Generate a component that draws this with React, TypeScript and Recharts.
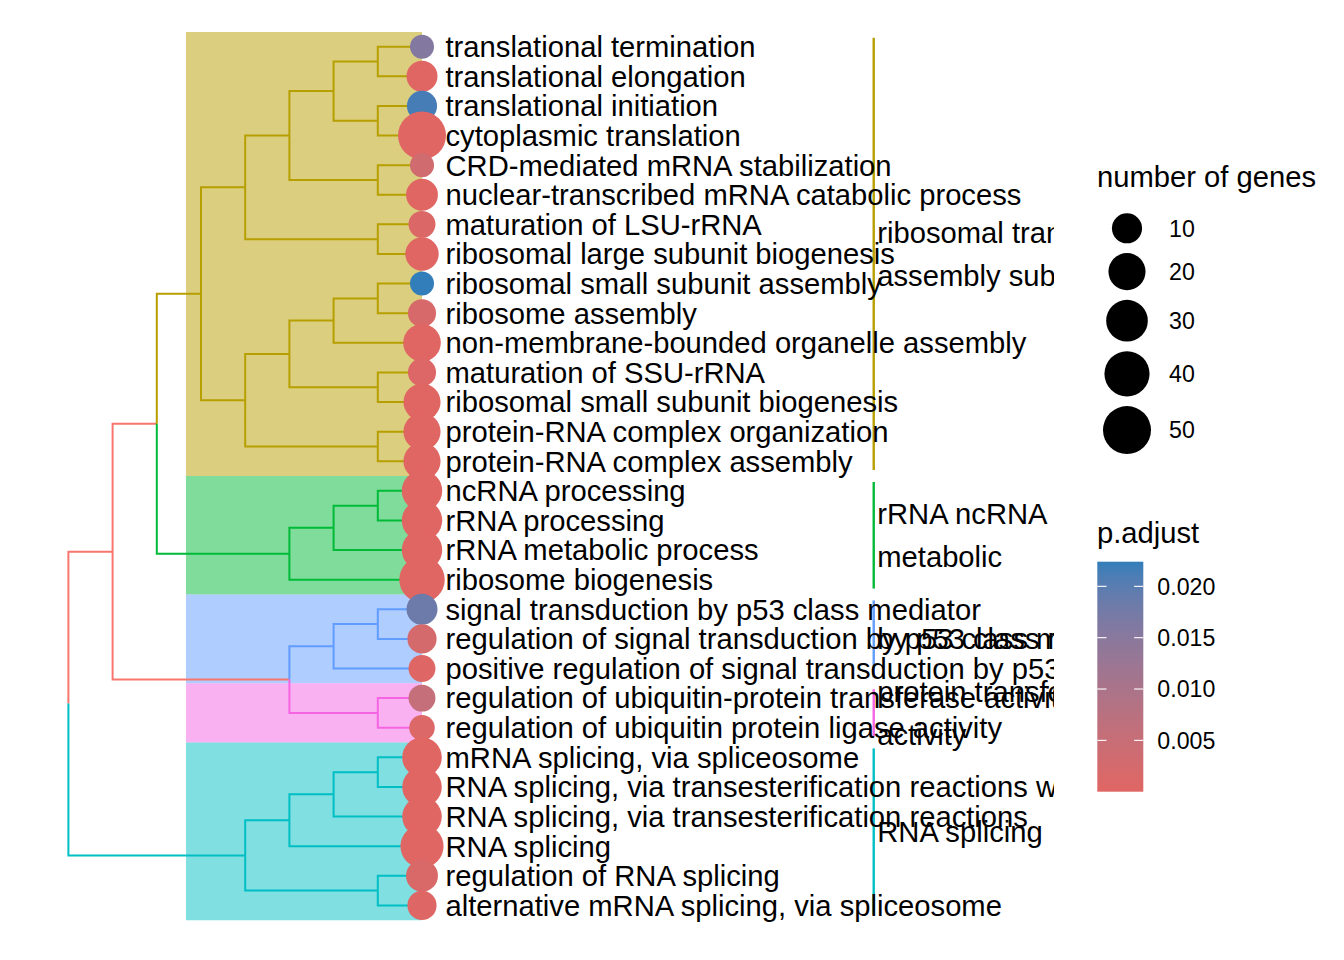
import React from 'react';
import { ComposedChart, Line, Scatter, XAxis, YAxis, ZAxis, ReferenceArea, Cell } from 'recharts';

const FONT = '"Liberation Sans", Arial, Helvetica, sans-serif';

// ---------- data ----------
const terms = [
  'translational termination',
  'translational elongation',
  'translational initiation',
  'cytoplasmic translation',
  'CRD-mediated mRNA stabilization',
  'nuclear-transcribed mRNA catabolic process',
  'maturation of LSU-rRNA',
  'ribosomal large subunit biogenesis',
  'ribosomal small subunit assembly',
  'ribosome assembly',
  'non-membrane-bounded organelle assembly',
  'maturation of SSU-rRNA',
  'ribosomal small subunit biogenesis',
  'protein-RNA complex organization',
  'protein-RNA complex assembly',
  'ncRNA processing',
  'rRNA processing',
  'rRNA metabolic process',
  'ribosome biogenesis',
  'signal transduction by p53 class mediator',
  'regulation of signal transduction by p53 class mediator',
  'positive regulation of signal transduction by p53 class mediator',
  'regulation of ubiquitin-protein transferase activity',
  'regulation of ubiquitin protein ligase activity',
  'mRNA splicing, via spliceosome',
  'RNA splicing, via transesterification reactions with bulged adenosine as nucleophile',
  'RNA splicing, via transesterification reactions',
  'RNA splicing',
  'regulation of RNA splicing',
  'alternative mRNA splicing, via spliceosome',
];

const geneCount = [5, 11, 10, 50, 5, 12, 7, 14, 5, 8, 21, 8, 20, 20, 20, 27, 27, 27, 41, 11, 9, 7, 7, 6, 25, 25, 25, 34, 12, 9];

const pAdjust = [
  0.0157, 2.1e-6, 0.0213, 1.3e-22, 0.0032, 4.5e-5, 0.001, 1.2e-6, 0.0224, 0.0018,
  3.4e-6, 0.0008, 2.0e-8, 3.1e-7, 2.2e-7, 1.1e-6, 4.0e-9, 6.0e-9, 1.5e-12, 0.0182,
  0.0022, 0.0004, 0.0056, 0.0009, 1.0e-5, 1.0e-5, 1.1e-5, 3.0e-6, 0.0015, 0.0004,
];

// cluster of each leaf (0..4)
const leafCluster = [
  0, 0, 0, 0, 0, 0, 0, 0, 0, 0, 0, 0, 0, 0, 0,
  1, 1, 1, 1,
  2, 2, 2,
  3, 3,
  4, 4, 4, 4, 4, 4,
];

const clusterLabelLines = [
  ['ribosomal translation', 'assembly subunit'],
  ['rRNA ncRNA', 'metabolic'],
  ['by p53 class mediator'],
  ['protein transferase', 'activity'],
  ['RNA splicing'],
];

const clusterColors = ['#B79F00', '#00BA38', '#619CFF', '#F564E3', '#00BFC4'];
const unclusteredColor = '#F8766D';

type Kid = number | string;
// dendrogram merges: kids are leaf numbers (1-based, top to bottom) or node ids
const treeNodes: { id: string; kids: Kid[]; level: number }[] = [
  { id: 'A', kids: [1, 2], level: 1 },
  { id: 'B', kids: [3, 4], level: 1 },
  { id: 'C', kids: ['A', 'B'], level: 2 },
  { id: 'D', kids: [5, 6], level: 1 },
  { id: 'E', kids: ['C', 'D'], level: 3 },
  { id: 'F', kids: [7, 8], level: 1 },
  { id: 'G', kids: ['E', 'F'], level: 4 },
  { id: 'H', kids: [9, 10], level: 1 },
  { id: 'I', kids: ['H', 11], level: 2 },
  { id: 'J', kids: [12, 13], level: 1 },
  { id: 'K', kids: ['I', 'J'], level: 3 },
  { id: 'L', kids: [14, 15], level: 1 },
  { id: 'M', kids: ['K', 'L'], level: 4 },
  { id: 'N', kids: ['G', 'M'], level: 5 },
  { id: 'P', kids: [16, 17], level: 1 },
  { id: 'Q', kids: ['P', 18], level: 2 },
  { id: 'R', kids: ['Q', 19], level: 3 },
  { id: 'O', kids: ['N', 'R'], level: 6 },
  { id: 'S', kids: [20, 21], level: 1 },
  { id: 'T', kids: ['S', 22], level: 2 },
  { id: 'U', kids: [23, 24], level: 1 },
  { id: 'V', kids: ['T', 'U'], level: 3 },
  { id: 'W', kids: ['O', 'V'], level: 7 },
  { id: 'X1', kids: [25, 26], level: 1 },
  { id: 'X2', kids: ['X1', 27], level: 2 },
  { id: 'X3', kids: ['X2', 28], level: 3 },
  { id: 'X4', kids: [29, 30], level: 1 },
  { id: 'X5', kids: ['X3', 'X4'], level: 4 },
  { id: 'root', kids: ['W', 'X5'], level: 8 },
];

const sizeBreaks = [10, 20, 30, 40, 50];
const colorBreaks = [0.005, 0.01, 0.015, 0.02];

// ---------- layout constants ----------
const SIZE_DOMAIN: [number, number] = [5, 50];
const SIZE_RANGE: [number, number] = [454, 1810];
const HILIGHT_X = -5.34;
const LABEL_X = 0.532;
const BAR_X = 10.22;
const CLUSTER_LABEL_X = 10.3;
const LABEL_SIZE = 29.2;

// ---------- tree helpers ----------
const nodeMap = new Map(treeNodes.map((n) => [n.id, n]));
function nodeY(k: Kid): number {
  if (typeof k === 'number') return k;
  const n = nodeMap.get(k)!;
  return n.kids.map(nodeY).reduce((a, b) => a + b, 0) / n.kids.length;
}
function nodeLevel(k: Kid): number {
  return typeof k === 'number' ? 0 : nodeMap.get(k)!.level;
}
function nodeGroup(k: Kid): number {
  if (typeof k === 'number') return leafCluster[k - 1];
  const gs = nodeMap.get(k)!.kids.map(nodeGroup);
  return gs.every((g) => g === gs[0]) ? gs[0] : -1;
}
const groupColor = (g: number) => (g < 0 ? unclusteredColor : clusterColors[g]);

const edgeSeries = [-1, 0, 1, 2, 3, 4].map((g) => {
  const pts: { x: number; y: number | null }[] = [];
  treeNodes.forEach((n) =>
    n.kids.forEach((k) => {
      if (nodeGroup(k) !== g) return;
      const px = -n.level;
      const py = nodeY(n.id);
      const cx = -nodeLevel(k);
      const cy = nodeY(k);
      pts.push({ x: px, y: py }, { x: px, y: cy }, { x: cx, y: cy }, { x: cx, y: null });
    })
  );
  return { g, pts };
});

const clusters = clusterLabelLines.map((lines, c) => {
  const idx = leafCluster.map((v, i) => (v === c ? i + 1 : -1)).filter((v) => v > 0);
  const first = Math.min(...idx);
  const last = Math.max(...idx);
  return { c, lines, first, last, center: (first + last) / 2, color: clusterColors[c] };
});

// ---------- colour scale (Lab interpolation like ggplot) ----------
const LOW = '#e06663';
const HIGH = '#327eba';
function hexToRgb(h: string) {
  const n = parseInt(h.slice(1), 16);
  return [(n >> 16) & 255, (n >> 8) & 255, n & 255];
}
const toLin = (c: number) => {
  c /= 255;
  return c <= 0.04045 ? c / 12.92 : Math.pow((c + 0.055) / 1.055, 2.4);
};
const fromLin = (c: number) => {
  const v = c <= 0.0031308 ? 12.92 * c : 1.055 * Math.pow(c, 1 / 2.4) - 0.055;
  return Math.round(Math.min(1, Math.max(0, v)) * 255);
};
function rgbToLab(rgb: number[]) {
  const [r, g, b] = rgb.map(toLin);
  const X = (0.4124 * r + 0.3576 * g + 0.1805 * b) / 0.95047;
  const Y = 0.2126 * r + 0.7152 * g + 0.0722 * b;
  const Z = (0.0193 * r + 0.1192 * g + 0.9505 * b) / 1.08883;
  const f = (t: number) => (t > 0.008856 ? Math.cbrt(t) : 7.787 * t + 16 / 116);
  const fx = f(X), fy = f(Y), fz = f(Z);
  return [116 * fy - 16, 500 * (fx - fy), 200 * (fy - fz)];
}
function labToHex(lab: number[]) {
  const [L, a, b] = lab;
  const fy = (L + 16) / 116;
  const fx = fy + a / 500;
  const fz = fy - b / 200;
  const inv = (t: number) => (t * t * t > 0.008856 ? t * t * t : (t - 16 / 116) / 7.787);
  const X = inv(fx) * 0.95047, Y = inv(fy), Z = inv(fz) * 1.08883;
  const r = 3.2406 * X - 1.5372 * Y - 0.4986 * Z;
  const g = -0.9689 * X + 1.8758 * Y + 0.0415 * Z;
  const bl = 0.0557 * X - 0.204 * Y + 1.057 * Z;
  return '#' + [fromLin(r), fromLin(g), fromLin(bl)].map((v) => v.toString(16).padStart(2, '0')).join('');
}
const LAB_LOW = rgbToLab(hexToRgb(LOW));
const LAB_HIGH = rgbToLab(hexToRgb(HIGH));
const mixColor = (t: number) => labToHex(LAB_LOW.map((v, i) => v + (LAB_HIGH[i] - v) * t));
const PMIN = Math.min(...pAdjust);
const PMAX = Math.max(...pAdjust);
const pColor = (p: number) => mixColor((p - PMIN) / (PMAX - PMIN));

// ---------- series data ----------
const leafData = terms.map((t, i) => ({ x: 0, y: i + 1, count: geneCount[i], p: pAdjust[i], term: t }));
const leafLabelData = terms.map((t, i) => ({ x: LABEL_X, y: i + 1, term: t }));
const clusterLabelData = clusters.map((c) => ({ x: CLUSTER_LABEL_X, y: c.center, lines: c.lines }));

const LeafLabel = (props: any) => (
  <text x={props.cx} y={props.cy} dy="0.355em" fontSize={LABEL_SIZE} fontFamily={FONT} fill="#000">
    {props.payload.term}
  </text>
);

const ClusterLabel = (props: any) => {
  const lines: string[] = props.payload.lines;
  const gap = 43;
  const n = lines.length;
  return (
    <text fontSize={LABEL_SIZE} fontFamily={FONT} fill="#000">
      {lines.map((l, i) => (
        <tspan key={i} x={props.cx} y={props.cy + (i - (n - 1) / 2) * gap} dy="0.355em">
          {l}
        </tspan>
      ))}
    </text>
  );
};

// legend helpers (mirror the ZAxis sqrt mapping)
const legendArea = (v: number) =>
  SIZE_RANGE[0] +
  ((SIZE_RANGE[1] - SIZE_RANGE[0]) * (Math.sqrt(v) - Math.sqrt(SIZE_DOMAIN[0]))) /
    (Math.sqrt(SIZE_DOMAIN[1]) - Math.sqrt(SIZE_DOMAIN[0]));
const legendDiam = (v: number) => 2 * Math.sqrt(legendArea(v) / Math.PI);

function Legends() {
  const diams = sizeBreaks.map(legendDiam);
  const centers: number[] = [];
  let cy = 220.3;
  diams.forEach((d, i) => {
    if (i > 0) cy += (diams[i - 1] + d) / 2 + 9.7;
    centers.push(cy);
  });
  const barX = 19.3, barY = 553.7, barW = 46, barH = 230;
  const stops = Array.from({ length: 21 }, (_, i) => i / 20);
  const tickY = (v: number) => barY + barH - ((v - PMIN) / (PMAX - PMIN)) * barH;
  return (
    <svg style={{ position: 'absolute', left: 1070, top: 0 }} width={266} height={944}>
      <defs>
        <linearGradient id="padjGrad" x1="0" y1="1" x2="0" y2="0">
          {stops.map((s) => (
            <stop key={s} offset={s} stopColor={mixColor(s)} />
          ))}
        </linearGradient>
      </defs>
      <text x={19} y={178.5} fontSize={LABEL_SIZE} fontFamily={FONT} fill="#000">number of genes</text>
      {sizeBreaks.map((v, i) => (
        <g key={v}>
          <circle cx={49} cy={centers[i]} r={diams[i] / 2} fill="#000" />
          <text x={91} y={centers[i]} dy="0.355em" fontSize={23.2} fontFamily={FONT} fill="#000">{v}</text>
        </g>
      ))}
      <text x={19} y={535.3} fontSize={LABEL_SIZE} fontFamily={FONT} fill="#000">p.adjust</text>
      <rect x={barX} y={barY} width={barW} height={barH} fill="url(#padjGrad)" />
      {colorBreaks.map((v) => (
        <g key={v}>
          <line x1={barX} x2={barX + 9.2} y1={tickY(v)} y2={tickY(v)} stroke="#fff" strokeWidth={1.1} />
          <line x1={barX + barW - 9.2} x2={barX + barW} y1={tickY(v)} y2={tickY(v)} stroke="#fff" strokeWidth={1.1} />
          <text x={79.3} y={tickY(v)} dy="0.355em" fontSize={23.2} fontFamily={FONT} fill="#000">{v.toFixed(3)}</text>
        </g>
      ))}
    </svg>
  );
}

export default function App() {
  return (
    <div style={{ position: 'relative', width: 1336, height: 944, fontFamily: FONT }}>
      <div style={{ position: 'absolute', left: 0, top: 0, width: 1046, height: 944, overflow: 'hidden' }}>
        <ComposedChart width={1046} height={944} margin={{ top: 9.09, right: 13.2, bottom: 17, left: 16.2 }}>
          <XAxis type="number" dataKey="x" domain={[-9, 14]} hide />
          <YAxis type="number" dataKey="y" domain={[0, 31]} reversed hide />
          <ZAxis type="number" dataKey="count" scale="sqrt" domain={SIZE_DOMAIN} range={SIZE_RANGE} />
          {edgeSeries.map((s) => (
            <Line
              key={'edge' + s.g}
              data={s.pts}
              dataKey="y"
              type="linear"
              stroke={groupColor(s.g)}
              strokeWidth={2}
              dot={false}
              activeDot={false}
              connectNulls={false}
              isAnimationActive={false}
            />
          ))}
          {clusters.map((c) => (
            <ReferenceArea
              key={'area' + c.c}
              x1={HILIGHT_X}
              x2={0}
              y1={c.first - 0.5}
              y2={c.last + 0.5}
              fill={c.color}
              fillOpacity={0.5}
              stroke="none"
            />
          ))}
          {clusters.map((c) => (
            <Line
              key={'bar' + c.c}
              data={[
                { x: BAR_X, y: c.first - 0.3 },
                { x: BAR_X, y: c.last + 0.3 },
              ]}
              dataKey="y"
              type="linear"
              stroke={c.color}
              strokeWidth={2.4}
              dot={false}
              activeDot={false}
              isAnimationActive={false}
            />
          ))}
          <Scatter data={leafData} isAnimationActive={false}>
            {leafData.map((d, i) => (
              <Cell key={i} fill={pColor(d.p)} />
            ))}
          </Scatter>
          <Scatter data={leafLabelData} shape={LeafLabel} isAnimationActive={false} />
          <Scatter data={clusterLabelData} shape={ClusterLabel} isAnimationActive={false} />
        </ComposedChart>
      </div>
      <Legends />
    </div>
  );
}
